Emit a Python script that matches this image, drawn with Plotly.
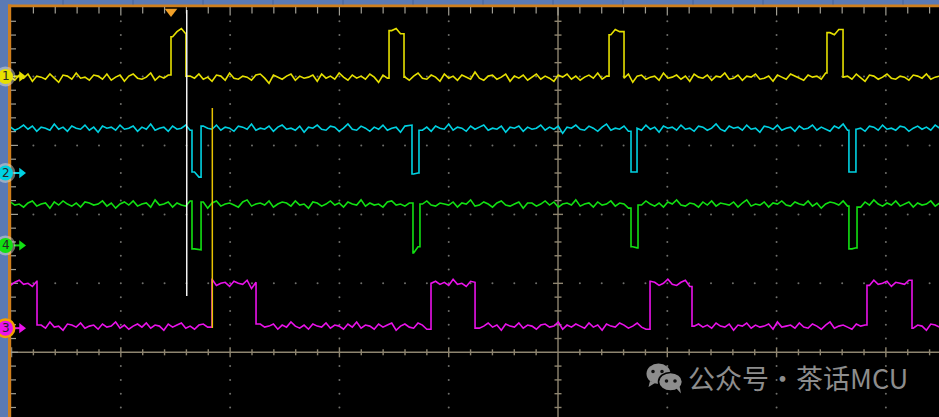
import plotly.graph_objects as go

# ---------------- data (x and y in screen divisions; centre of screen = 0,0) -------------
X_RANGE = [-5.005, 3.486]
Y_RANGE = [-0.938, 5.007]
T0 = -5.01          # first sample (div)
DT = 0.0401         # sample interval (div)
NOISE_UNIT = 0.015  # one noise count, in divisions

# channel 1 (yellow): low/high levels, starting state, edge positions
CH1_LEVELS = [3.99, 4.65]
CH1_START = 0
CH1_EDGES = [-3.541, -3.404, -1.546, -1.409, 0.467, 0.604, 2.461, 2.608]
CH1_NOISE = [
    0, -3, 2, -1, 3, -4, 1, 0, -2, 3, -1, -5, 2, 1, -2, 4, -1, 0, -3, 2,
    1, -2, 3, -3, 0, 2, -4, 1, 3, -1, -2, 0, 4, -3, 1, -1, 2, -5, 0, 3,
    -2, 1, -1, 3, -2, 0, -4, 2, 1, -3, 4, -1, -2, 1, 0, -3, 2, 3, -1, -6,
    2, 0, -2, 1, 3, -3, 1, -1, 0, 2, -4, 3, -1, 1, -2, 4, 0, -3, 2, -1,
    1, -2, 3, 0, -5, 2, -1, 1, 3, -2, 0, -3, 1, 4, -1, -2, 2, 0, -4, 3,
    -1, 1, -3, 2, 0, -2, 5, -1, -3, 1, 2, -2, 0, 3, -4, 1, -1, 2, -3, 0,
    3, -2, 1, -1, -4, 2, 0, 3, -2, 1, -3, 0, 2, -1, 4, -2, 1, -3, 2, 0,
    -1, 3, -5, 1, 2, -2, 0, 1, -3, 4, -1, 0, 2, -2, 1, -4, 3, 0, -1, 2,
    -3, 1, 0, 4, -2, -1, 2, -3, 1, 0, 3, -2, -1, 1, -4, 2, 0, -2, 3, 1,
    -1, -3, 2, 0, 1, -2, 4, -1, -3, 2, 0, 1, -2, 3, -1, -4, 2, 1, -2, 0,
    3, -1, -2, 1, 0, -3, 2, 1, -1, 3, -2, 0, 1, 2, -1]

# channel 2 (cyan): high idle level, low pulses
CH2_LEVELS = [2.60, 3.25]
CH2_START = 1
CH2_EDGES = [-3.349, -3.266, -1.336, -1.272, 0.668, 0.723, 2.662, 2.726]
CH2_NOISE = [
    1, -2, 0, 3, -1, 2, -3, 1, 0, -2, 4, -1, 1, -3, 2, 0, -1, 3, -2, 1,
    -4, 2, 0, 1, -2, 3, -1, 0, 2, -3, 1, -1, 4, -2, 0, 1, -3, 2, -1, 0,
    3, -2, 1, -4, 2, 0, -1, 3, -2, 1, 0, -3, 2, 1, -1, 4, -2, 0, -1, 2,
    -3, 1, 3, -1, 0, -2, 2, -4, 1, 0, 3, -1, -2, 2, 1, -3, 0, 4, -1, -2,
    2, 0, -3, 1, -1, 3, -2, 0, 1, -4, 2, 3, -1, 0, -2, 1, -3, 2, 0, -1,
    4, -2, 1, 0, -3, 2, -1, 1, 3, -2, 0, -1, 2, -4, 1, 0, 2, -3, 1, -1,
    0, 3, -2, 1, -1, 2, -5, 1, 0, 3, -1, -2, 2, 0, -3, 1, 4, -2, 0, -1,
    2, -3, 1, 0, -2, 3, -1, 1, -4, 2, 0, 1, -2, 3, -1, 0, -3, 2, 1, -2,
    0, 4, -1, -3, 2, 0, 1, -2, 3, -1, 0, -4, 2, 1, -1, 3, -2, 0, 1, -3,
    2, -1, 0, 3, -2, 1, -1, -3, 2, 0, 4, -2, 1, -1, 0, -3, 2, 1, -2, 3,
    -1, 0, -2, 2, 1, -3, 0, 2, -1, 1, -2, 3, 0, 1, -1]

# channel 3 (magenta): square wave
CH3_LEVELS = [0.38, 1.00]
CH3_START = 1
CH3_EDGES = [-4.767, -3.166, -2.763, -1.162, -0.759, 0.842, 1.226, 2.827, 3.239]
CH3_NOISE = [
    -2, 1, 3, -1, 0, -3, 2, 1, -2, 4, -1, 0, -4, 2, 1, -1, 3, -2, 0, 1,
    -3, 2, -1, 0, 4, -2, 1, -3, 0, 2, -1, 3, -2, 1, 0, -4, 2, -1, 1, 3,
    -2, 0, -3, 1, 2, -1, 4, -2, 0, 1, -3, 2, 0, -1, 3, -5, 1, 2, -1, 0,
    2, -3, 1, -1, 4, 0, -2, 1, -3, 2, 0, -1, 3, -2, 1, 0, -3, 2, -1, 4,
    -2, 1, 0, -3, 2, -1, 1, 3, -4, 0, 2, -1, -2, 3, 1, -3, 0, 2, -1, 1,
    -2, 4, -1, 0, -3, 2, 1, -2, 0, 3, -1, 1, -4, 2, 0, -1, 3, -2, 1, 0,
    -3, 1, 2, -1, 0, 4, -3, 1, -1, 2, 0, -2, 3, -1, 1, -4, 2, 0, -1, 3,
    1, -2, 0, 3, -1, -3, 2, 1, -2, 0, 4, -1, -2, 1, 3, -3, 0, 2, -1, 1,
    -2, 3, 0, -1, 2, -4, 1, 0, 3, -2, 1, -1, 0, 2, -3, 4, -1, 0, 1, -2,
    3, -1, -2, 2, 0, -3, 1, 4, -2, 0, 1, -1, -3, 2, 0, 1, -2, 3, -1, 0,
    2, -3, 1, 0, -1, 3, -2, 1, 0, -4, 2, 1, -1, 2, 0]

# channel 4 (green): high idle level, low pulses
CH4_LEVELS = [1.50, 2.15]
CH4_START = 1
CH4_EDGES = [-3.349, -3.266, -1.327, -1.263, 0.668, 0.732, 2.662, 2.736]
CH4_NOISE = [
    2, -1, 0, -3, 1, 3, -2, 0, 1, -4, 2, -1, 3, 0, -2, 1, -3, 2, 1, -1,
    0, 3, -2, 1, -4, 0, 2, -1, 3, -2, 0, 1, -3, 4, -1, 0, 2, -3, 1, -1,
    -2, 3, 0, -1, 2, -4, 1, 3, -2, 0, 1, -1, -3, 2, 4, -2, 0, 1, -1, 3,
    -3, 0, 2, 1, -2, 3, -1, 0, -4, 2, 1, -2, 0, 3, -1, 1, -3, 2, 0, -1,
    4, -2, 1, -1, 0, -3, 2, 3, -1, 0, -2, 1, -4, 2, 0, 3, -1, -2, 1, 0,
    -1, 2, -3, 1, 0, 4, -2, -1, 2, 0, -3, 1, 3, -1, -2, 0, 2, -4, 1, 1,
    -2, 0, 3, -1, 2, -3, 0, 1, -1, 4, -2, 0, 1, -3, 2, -1, 0, 3, -2, 1,
    0, -4, 2, 1, -1, 3, 0, -2, 1, -3, 2, 0, 4, -1, -2, 1, 0, -3, 2, -1,
    3, -2, 1, 0, -1, 2, -3, 1, 4, -2, 0, -1, 2, -3, 1, 0, 3, -1, -2, 2,
    0, -1, 3, -2, 1, -4, 0, 2, 1, -1, 3, -2, 0, 1, -3, 2, -1, 4, 0, -2,
    1, -1, 3, -2, 0, 2, -3, 1, -1, 0, 3, -2, 1, 0, 2]

# channel ground markers (div) and labels
CH_LABELS = ["1", "2", "4", "3"]
CH_MARKER_LEVELS = [4.00, 2.60, 1.55, 0.35]
CH_COLORS = ["#e6e000", "#00d2e2", "#12e012", "#ea12ea"]

# cursors: x position, y from, y to (div)
CURSOR_X = [-3.397, -3.163]
CURSOR_Y0 = [0.816, 0.352]
CURSOR_Y1 = [4.964, 3.543]
CURSOR_COLORS = ["#f2f2f2", "#e8c200"]
TRIGGER_X = -3.541

WATERMARK = "公众号·茶话MCU"

# ---------------- geometry helpers -------------------------------------------------------
W, H = 939, 417
ML, MT = 11, 7
PW, PH = W - ML, H - MT
PX_PER_DIV_X = PW / (X_RANGE[1] - X_RANGE[0])
PX_PER_DIV_Y = PH / (Y_RANGE[1] - Y_RANGE[0])


def xd(px):
    return X_RANGE[0] + (px - ML) / PX_PER_DIV_X


def yd(py):
    return Y_RANGE[1] - (py - MT) / PX_PER_DIV_Y


def xp(px):
    return (px - ML) / PW


def yp(py):
    return (H - py) / PH


def build(edges, levels, start, noise):
    xs, ys = [], []
    state = start
    ei = 0
    prev = noise[0] * NOISE_UNIT
    for i, n in enumerate(noise):
        t = T0 + i * DT
        v = n * NOISE_UNIT
        while ei < len(edges) and edges[ei] <= t:
            xs.append(edges[ei]); ys.append(levels[state] + prev)
            state = 1 - state
            xs.append(edges[ei]); ys.append(levels[state] + v)
            ei += 1
        xs.append(t); ys.append(levels[state] + v)
        prev = v
    return xs, ys


fig = go.Figure()

# ---------------- graticule --------------------------------------------------------------
GRID_DOT = "#6e6e6a"
CENTER = "#8e8570"
dx, dy = [], []
for k in range(-4, 4):
    if k == 0:
        continue
    for m in range(-4, 25):
        y = m * 0.2
        if Y_RANGE[0] < y < 5.0 and m % 5 != 0:
            dx.append(k); dy.append(y)
for j in range(1, 5):
    for m in range(-24, 18):
        x = m * 0.2
        if X_RANGE[0] < x < X_RANGE[1] and m % 5 != 0:
            dx.append(x); dy.append(j)
for k in range(-4, 4):
    for j in range(1, 5):
        if k != 0:
            dx.append(k); dy.append(j)
fig.add_trace(go.Scatter(x=dx, y=dy, mode="markers", hoverinfo="skip",
                         marker=dict(size=2, color=GRID_DOT, line=dict(width=0))))

tx, ty = [], []
for m in range(-25, 18):
    x = m * 0.2
    if x <= X_RANGE[0] or x >= X_RANGE[1] or m == 0:
        continue
    h = (5 if m % 5 == 0 else 3) / PX_PER_DIV_Y
    tx += [x, x, None]; ty += [-h, h, None]
for m in range(-4, 25):
    y = m * 0.2
    if y <= Y_RANGE[0] or y >= 5.0 or m == 0:
        continue
    w = (5 if m % 5 == 0 else 3.5) / PX_PER_DIV_X
    tx += [-w, w, None]; ty += [y, y, None]
tx += [X_RANGE[0], X_RANGE[1], None, 0, 0]
ty += [0, 0, None, Y_RANGE[0], Y_RANGE[1]]
fig.add_trace(go.Scatter(x=tx, y=ty, mode="lines", hoverinfo="skip",
                         line=dict(color=CENTER, width=1.4)))

ex, ey = [], []
for m in range(-24, 18):
    x = m * 0.2
    if x <= X_RANGE[0] or x >= X_RANGE[1]:
        continue
    L = (8 if m % 5 == 0 else 6) / PX_PER_DIV_Y
    ex += [x, x, None]; ey += [Y_RANGE[1], 5.0 - L, None]
for m in range(-4, 25):
    y = m * 0.2
    if y <= Y_RANGE[0] or y >= 5.0:
        continue
    L = (7 if m % 5 == 0 else 5) / PX_PER_DIV_X
    ex += [X_RANGE[0], X_RANGE[0] + L, None]; ey += [y, y, None]
fig.add_trace(go.Scatter(x=ex, y=ey, mode="lines", hoverinfo="skip",
                         line=dict(color="#a09e94", width=1.2)))

# ---------------- waveforms --------------------------------------------------------------
for edges, levels, start, noise, col in [
        (CH3_EDGES, CH3_LEVELS, CH3_START, CH3_NOISE, CH_COLORS[3]),
        (CH4_EDGES, CH4_LEVELS, CH4_START, CH4_NOISE, CH_COLORS[2]),
        (CH2_EDGES, CH2_LEVELS, CH2_START, CH2_NOISE, CH_COLORS[1]),
        (CH1_EDGES, CH1_LEVELS, CH1_START, CH1_NOISE, CH_COLORS[0])]:
    xs, ys = build(edges, levels, start, noise)
    fig.add_trace(go.Scatter(x=xs, y=ys, mode="lines", hoverinfo="skip",
                             line=dict(color=col, width=1.6)))

# ---------------- cursors ----------------------------------------------------------------
for cx, c0, c1, cc in zip(CURSOR_X, CURSOR_Y0, CURSOR_Y1, CURSOR_COLORS):
    fig.add_trace(go.Scatter(x=[cx, cx], y=[c0, c1], mode="lines", hoverinfo="skip",
                             line=dict(color=cc, width=1.5)))

fig.add_trace(go.Scatter(x=[TRIGGER_X], y=[yd(11.5)], mode="markers", hoverinfo="skip",
                         cliponaxis=False,
                         marker=dict(symbol="triangle-down", size=11, color="#f0a028",
                                     line=dict(width=0))))

# ---------------- frame shapes -----------------------------------------------------------
BLUE = "#5b7ab4"
ORANGE = "#cf7f1e"
shapes = [
    dict(type="rect", xref="paper", yref="paper", x0=xp(8), x1=xp(W), y0=yp(7.3), y1=yp(4.5),
         fillcolor=ORANGE, line=dict(width=0), layer="below"),
    dict(type="rect", xref="paper", yref="paper", x0=xp(8), x1=xp(11.2), y0=yp(H), y1=yp(4.5),
         fillcolor=ORANGE, line=dict(width=0), layer="below"),
]
for k in range(13):
    sx = 63 + 70 * k
    shapes.append(dict(type="line", xref="paper", yref="paper", x0=xp(sx), x1=xp(sx),
                       y0=yp(4.5), y1=yp(0), line=dict(color="#46629a", width=1), layer="below"))

# ---------------- channel badges (arrow + numbered disc) --------------------------------
annotations = []
RX = 7.5 / PW            # disc radius in paper-x units
RY = 7.5 / PX_PER_DIV_Y  # disc radius in y-data units
GX = 10.0 / PW
GY = 10.0 / PX_PER_DIV_Y
for lab, lvl, col in zip(CH_LABELS, CH_MARKER_LEVELS, CH_COLORS):
    fig.add_trace(go.Scatter(x=[xd(14), xd(20)], y=[lvl, lvl], mode="lines",
                             hoverinfo="skip", cliponaxis=False,
                             line=dict(color=col, width=2)))
    fig.add_trace(go.Scatter(x=[xd(21.5)], y=[lvl], mode="markers", hoverinfo="skip",
                             cliponaxis=False,
                             marker=dict(symbol="triangle-right", size=9, color=col,
                                         line=dict(width=0))))
    cx = xp(5.5)
    halo = "#f2a000" if lab == "3" else "rgba(235,235,215,0.45)"
    shapes.append(dict(type="circle", xref="paper", yref="y", x0=cx - GX, x1=cx + GX,
                       y0=lvl - GY, y1=lvl + GY, fillcolor=halo,
                       line=dict(width=0), layer="above"))
    shapes.append(dict(type="circle", xref="paper", yref="y", x0=cx - RX, x1=cx + RX,
                       y0=lvl - RY, y1=lvl + RY, fillcolor=col,
                       line=dict(width=0), layer="above"))
    annotations.append(dict(text=lab, xref="paper", yref="y", x=cx, y=lvl,
                            xanchor="center", yanchor="middle", showarrow=False,
                            font=dict(family="DejaVu Sans", size=12, color="#262626")))

# ---------------- watermark --------------------------------------------------------------
WM = "#8d8d8d"
shapes += [
    dict(type="path", xref="paper", yref="paper",
         path=f"M {xp(650)},{yp(381)} L {xp(648.5)},{yp(387)} L {xp(655)},{yp(383)} Z",
         fillcolor=WM, line=dict(width=0)),
    dict(type="circle", xref="paper", yref="paper", x0=xp(646.5), x1=xp(670.5),
         y0=yp(384), y1=yp(363.5), fillcolor=WM, line=dict(width=0)),
    dict(type="circle", xref="paper", yref="paper", x0=xp(658.5), x1=xp(682.5),
         y0=yp(391), y1=yp(372.5), fillcolor=WM, line=dict(color="#000000", width=1.6)),
    dict(type="path", xref="paper", yref="paper",
         path=f"M {xp(676)},{yp(388)} L {xp(681)},{yp(393.5)} L {xp(679.5)},{yp(386)} Z",
         fillcolor=WM, line=dict(width=0)),
]
for (ex_, ey_) in [(653, 371.5), (662, 371.5), (666.5, 381), (675, 381)]:
    shapes.append(dict(type="circle", xref="paper", yref="paper", x0=xp(ex_ - 1.8),
                       x1=xp(ex_ + 1.8), y0=yp(ey_ + 1.8), y1=yp(ey_ - 1.8),
                       fillcolor="#111111", line=dict(width=0)))
annotations.append(dict(text=WATERMARK, xref="paper", yref="paper", x=xp(686), y=yp(377),
                        xanchor="left", yanchor="middle", showarrow=False,
                        font=dict(family="Noto Sans CJK SC", size=27, color=WM)))

fig.update_layout(
    width=W, height=H,
    margin=dict(l=ML, r=0, t=MT, b=0, pad=0),
    paper_bgcolor=BLUE, plot_bgcolor="#000000",
    showlegend=False,
    xaxis=dict(range=X_RANGE, visible=False, fixedrange=True),
    yaxis=dict(range=Y_RANGE, visible=False, fixedrange=True),
    shapes=shapes,
    annotations=annotations,
)

fig.write_html("out.html", config={"displayModeBar": False},
               post_script="document.body.style.margin='0px';"
                           "document.body.style.overflow='hidden';"
                           "document.body.style.background='#5b7ab4';")
